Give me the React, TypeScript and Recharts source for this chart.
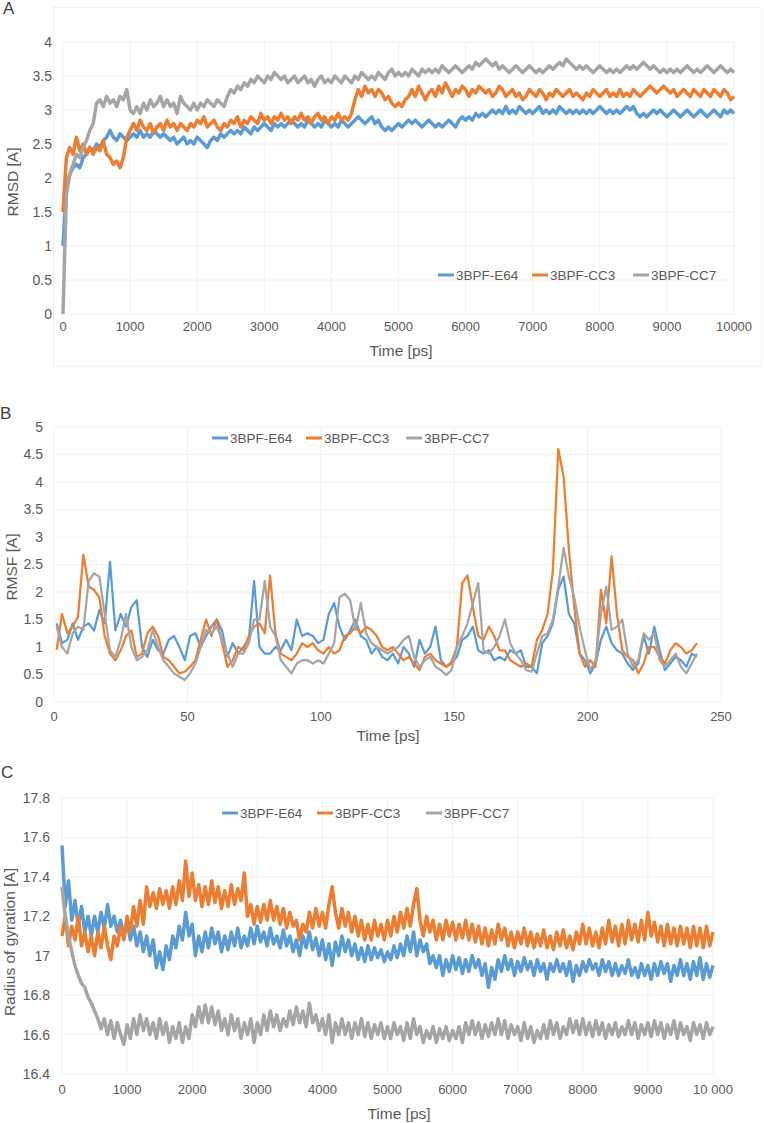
import { LineChart, Line, XAxis, YAxis, CartesianGrid } from 'recharts';

const seriesNames = ['3BPF-E64', '3BPF-CC3', '3BPF-CC7'];
const seriesColors = ['#5B9BD5', '#ED7D31', '#A5A5A5'];

// A: RMSD, sampled every 50 ps
const rmsdTime = Array.from({ length: 201 }, (_, i) => i * 50);
const rmsdE64 = [
  1.0, 1.85, 2.05, 2.15, 2.2, 2.15, 2.3, 2.35, 2.45, 2.4,
  2.5, 2.45, 2.55, 2.6, 2.7, 2.6, 2.55, 2.65, 2.6, 2.55,
  2.6, 2.65, 2.6, 2.7, 2.6, 2.65, 2.6, 2.7, 2.65, 2.6,
  2.65, 2.6, 2.55, 2.6, 2.5, 2.55, 2.6, 2.5, 2.55, 2.5,
  2.6, 2.55, 2.5, 2.45, 2.55, 2.6, 2.55, 2.65, 2.6, 2.65,
  2.7, 2.65, 2.7, 2.65, 2.75, 2.7, 2.65, 2.75, 2.7, 2.75,
  2.8, 2.75, 2.7, 2.8, 2.75, 2.8, 2.75, 2.8, 2.85, 2.8,
  2.75, 2.8, 2.75, 2.85, 2.8, 2.75, 2.8, 2.75, 2.85, 2.8,
  2.75, 2.8, 2.75, 2.85, 2.8, 2.75, 2.8, 2.85, 2.9, 2.85,
  2.8, 2.85, 2.9, 2.8, 2.85, 2.75, 2.7, 2.75, 2.7, 2.75,
  2.8, 2.75, 2.8, 2.85, 2.8, 2.85, 2.8, 2.75, 2.8, 2.85,
  2.8, 2.75, 2.8, 2.75, 2.8, 2.85, 2.8, 2.75, 2.85, 2.9,
  2.85, 2.9, 2.85, 2.95, 2.9, 2.95, 2.9, 2.95, 3.0, 2.95,
  3.0, 2.95, 3.05, 2.95, 3.0, 2.95, 3.05, 3.0, 2.95, 3.0,
  2.95, 3.0, 3.05, 2.95, 3.0, 2.95, 3.0, 2.95, 3.05, 3.0,
  2.95, 3.0, 2.95, 3.0, 2.95, 3.0, 2.95, 3.0, 2.95, 3.0,
  3.05, 3.0, 2.95, 3.0, 2.95, 3.0, 2.95, 3.0, 3.05, 3.0,
  3.05, 2.95, 2.9, 2.95, 2.9, 2.95, 3.0, 2.95, 3.0, 2.95,
  2.9, 2.95, 3.0, 2.95, 2.9, 2.95, 3.0, 2.95, 2.9, 2.95,
  3.0, 2.95, 2.9, 2.95, 3.0, 2.95, 2.9, 3.0, 2.95, 3.0,
  2.95,
];
const rmsdCC3 = [
  1.5, 2.3, 2.45, 2.35, 2.6, 2.4, 2.5, 2.35, 2.45, 2.35,
  2.45, 2.4, 2.55, 2.35, 2.3, 2.2, 2.25, 2.15, 2.3, 2.6,
  2.7, 2.8, 2.7, 2.85, 2.75, 2.7, 2.8, 2.65, 2.75, 2.8,
  2.7, 2.85, 2.75, 2.8, 2.7, 2.8, 2.75, 2.7, 2.8, 2.75,
  2.85, 2.8, 2.9, 2.75, 2.8, 2.85, 2.75, 2.7, 2.8, 2.75,
  2.85, 2.8, 2.9, 2.75, 2.85, 2.8, 2.9, 2.85, 2.8, 2.95,
  2.85, 2.9, 2.8, 2.9, 2.85, 2.95, 2.85, 2.9, 2.8, 2.9,
  2.85, 2.95, 2.85, 2.9, 2.8, 2.9, 2.95, 2.85, 2.9, 2.8,
  2.9, 2.85, 2.95, 2.85, 2.9, 2.85, 2.95, 3.15, 3.3, 3.2,
  3.35, 3.25, 3.3, 3.2, 3.3, 3.25, 3.15, 3.2, 3.1, 3.05,
  3.1, 3.05, 3.15, 3.2, 3.3, 3.2, 3.35, 3.25, 3.15, 3.25,
  3.3, 3.2, 3.35, 3.25, 3.4, 3.3, 3.2, 3.3, 3.25, 3.35,
  3.3, 3.2, 3.3, 3.25, 3.35, 3.3, 3.25, 3.3, 3.2, 3.25,
  3.35, 3.3, 3.2, 3.25, 3.3, 3.2, 3.25, 3.15, 3.2, 3.3,
  3.25, 3.2, 3.3, 3.25, 3.15, 3.25, 3.2, 3.3, 3.25, 3.2,
  3.25, 3.3, 3.2, 3.25, 3.2, 3.15, 3.25, 3.2, 3.3, 3.25,
  3.2, 3.25, 3.3, 3.2, 3.25, 3.2, 3.3, 3.2, 3.25, 3.2,
  3.3, 3.25, 3.2, 3.25, 3.3, 3.35, 3.3, 3.25, 3.3, 3.35,
  3.3, 3.25, 3.3, 3.2, 3.25, 3.3, 3.25, 3.2, 3.3, 3.25,
  3.2, 3.3, 3.25, 3.2, 3.3, 3.25, 3.2, 3.3, 3.25, 3.15,
  3.2,
];
const rmsdCC7 = [
  0, 1.75, 2.05, 2.2, 2.35, 2.3, 2.45, 2.55, 2.7, 2.8,
  3.1, 3.15, 3.05, 3.2, 3.1, 3.15, 3.05, 3.2, 3.15, 3.3,
  3.0, 2.95, 3.05, 2.95, 3.1, 3.0, 3.15, 3.05, 3.1, 3.2,
  3.05, 3.15, 3.05, 3.1, 2.95, 3.2, 3.1, 3.05, 3.0, 3.1,
  3.0, 3.1, 3.05, 3.15, 3.1, 3.05, 3.15, 3.1, 3.05, 3.2,
  3.3, 3.25, 3.35, 3.3, 3.4, 3.35, 3.45, 3.4, 3.5, 3.45,
  3.4, 3.5, 3.45, 3.55, 3.5, 3.45, 3.5, 3.4, 3.45, 3.5,
  3.4, 3.45, 3.5, 3.4, 3.45, 3.35, 3.45, 3.5, 3.4, 3.45,
  3.4, 3.5, 3.45, 3.4, 3.5, 3.45, 3.4, 3.5, 3.45, 3.55,
  3.5, 3.45, 3.5, 3.45, 3.55, 3.5, 3.45, 3.55, 3.6, 3.5,
  3.55, 3.5, 3.55, 3.5, 3.6, 3.55, 3.5, 3.6, 3.55, 3.6,
  3.55, 3.6, 3.55, 3.65, 3.6, 3.55, 3.6, 3.65, 3.6, 3.55,
  3.6, 3.65, 3.6, 3.7, 3.65, 3.7, 3.75, 3.7, 3.65, 3.7,
  3.6, 3.65, 3.6, 3.55, 3.6, 3.65, 3.6, 3.55, 3.6, 3.65,
  3.6, 3.55, 3.6, 3.55, 3.6, 3.65, 3.6, 3.65, 3.7, 3.65,
  3.75, 3.7, 3.65, 3.6, 3.65, 3.6, 3.65, 3.6, 3.55, 3.6,
  3.65, 3.6, 3.55, 3.6, 3.55, 3.6, 3.55, 3.6, 3.65, 3.6,
  3.65, 3.6, 3.65, 3.7, 3.65, 3.6, 3.65, 3.6, 3.55, 3.6,
  3.55, 3.6, 3.55, 3.6, 3.55, 3.6, 3.65, 3.6, 3.55, 3.6,
  3.55, 3.6, 3.65, 3.6, 3.55, 3.6, 3.65, 3.6, 3.55, 3.6,
  3.55,
];
const rmsdXTicks = [0, 1000, 2000, 3000, 4000, 5000, 6000, 7000, 8000, 9000, 10000];
const rmsdYTicks = [0, 0.5, 1, 1.5, 2, 2.5, 3, 3.5, 4];

// B: RMSF
const rmsfTime = Array.from({ length: 121 }, (_, i) => 1 + i * 2);
const rmsfE64 = [
  1.43, 1.07, 1.13, 1.43, 1.13, 1.37, 1.43, 1.3, 1.67, 1.43,
  2.55, 1.3, 1.6, 1.37, 1.73, 1.85, 1.0, 0.82, 1.13, 0.94,
  0.88, 1.13, 1.2, 1.0, 0.76, 1.2, 1.25, 1.0, 1.2, 1.37,
  1.5, 1.3, 0.82, 1.07, 0.88, 1.0, 1.13, 2.2, 1.0, 0.88,
  0.88, 1.0, 0.94, 1.13, 0.94, 1.5, 1.2, 1.25, 1.2, 1.07,
  1.13, 1.6, 1.8, 1.37, 1.13, 1.3, 1.5, 1.2, 1.13, 0.88,
  1.0, 0.82, 0.76, 0.88, 0.7, 1.0, 0.88, 0.64, 1.13, 0.88,
  1.0, 1.37, 0.76, 0.64, 0.7, 0.82, 1.13, 1.2, 1.37, 0.94,
  0.88, 0.94, 0.76, 0.82, 0.76, 0.94, 0.88, 0.94, 0.64, 0.64,
  0.52, 1.07, 1.2, 1.43, 2.04, 2.28, 1.6, 1.43, 0.88, 0.76,
  0.52, 0.7, 1.13, 1.37, 1.07, 0.94, 0.88, 0.7, 0.58, 0.7,
  1.2, 0.88, 1.37, 0.94, 0.58, 0.7, 0.82, 0.76, 0.64, 0.88,
  0.82,
];
const rmsfCC3 = [
  0.95, 1.6, 1.25, 1.37, 1.55, 2.68, 2.1, 2.04, 1.9, 1.2,
  0.88, 0.76, 0.94, 1.2, 1.3, 0.82, 0.88, 1.25, 1.37, 1.2,
  0.82, 0.76, 0.64, 0.52, 0.55, 0.64, 0.76, 1.13, 1.5, 1.2,
  1.5, 1.07, 0.64, 0.76, 1.0, 0.94, 1.2, 1.37, 1.43, 1.25,
  2.3, 1.25, 0.88, 0.82, 0.76, 0.88, 1.07, 1.0, 1.07, 0.94,
  0.88, 1.0, 0.88, 0.94, 1.2, 1.25, 1.37, 1.25, 1.37, 1.31,
  1.2, 1.0, 0.94, 1.0, 0.88, 0.76, 0.82, 0.7, 0.58, 0.82,
  0.88, 0.76, 0.7, 0.64, 0.73, 1.0, 2.16, 2.3, 1.73, 1.2,
  1.13, 1.37, 1.2, 0.94, 0.94, 0.76, 0.7, 0.64, 0.7, 0.64,
  1.13, 1.31, 1.6, 2.4, 4.6, 4.1, 2.76, 1.73, 0.88, 0.64,
  0.76, 0.64, 2.04, 1.43, 2.65, 1.6, 0.94, 0.82, 0.76, 0.52,
  0.7, 1.0, 1.0, 0.82, 0.7, 0.94, 1.07, 1.0, 0.88, 0.94,
  1.07,
];
const rmsfCC7 = [
  1.37, 1.0, 0.88, 1.25, 1.37, 1.31, 2.2, 2.34, 2.28, 1.6,
  0.94, 0.82, 1.13, 1.6, 1.0, 0.76, 0.82, 0.94, 1.31, 1.0,
  0.76, 0.64, 0.52, 0.46, 0.4, 0.52, 0.7, 1.0, 1.31, 1.25,
  1.37, 1.13, 0.88, 0.64, 0.88, 0.88, 1.07, 1.5, 1.5, 2.2,
  1.37, 1.2, 0.76, 0.64, 0.52, 0.7, 0.76, 0.76, 0.7, 0.76,
  0.7, 0.88, 1.07, 1.9, 1.97, 1.85, 1.31, 1.8, 1.25, 1.07,
  1.0, 0.94, 0.88, 0.94, 1.0, 1.13, 1.2, 0.82, 0.64, 0.76,
  0.82, 0.64, 0.58, 0.49, 0.58, 1.0, 1.2, 1.43, 1.8, 2.16,
  0.94, 0.88, 1.0, 1.2, 1.5, 1.07, 0.88, 0.76, 0.58, 0.55,
  0.88, 1.2, 1.25, 1.5, 2.1, 2.8, 2.28, 1.9, 1.37, 0.94,
  0.58, 0.76, 1.6, 2.1, 1.31, 1.37, 1.5, 0.88, 0.64, 0.76,
  1.25, 1.13, 1.25, 0.76, 0.64, 0.76, 0.88, 0.64, 0.52, 0.7,
  0.88,
];
const rmsfXTicks = [0, 50, 100, 150, 200, 250];
const rmsfYTicks = [0, 0.5, 1, 1.5, 2, 2.5, 3, 3.5, 4, 4.5, 5];

// C: radius of gyration, sampled every 50 ps
const rgTime = Array.from({ length: 201 }, (_, i) => i * 50);
const rgE64 = [
  17.56, 17.25, 17.38, 17.18, 17.28, 17.15, 17.25, 17.12, 17.2, 17.1,
  17.2, 17.12, 17.22, 17.14, 17.26, 17.15, 17.2, 17.12, 17.18, 17.1,
  17.17, 17.08, 17.15, 17.05, 17.12, 17.02, 17.1, 17.0, 17.08, 16.94,
  17.02, 16.93, 17.05, 16.98, 17.1, 17.04, 17.15, 17.08, 17.22, 17.1,
  17.16, 17.0, 17.1, 17.02, 17.12, 17.04, 17.14, 17.06, 17.12, 17.02,
  17.1, 17.03, 17.12, 17.05, 17.14, 17.04, 17.1, 17.05, 17.14, 17.06,
  17.15, 17.07, 17.12, 17.05, 17.14, 17.06, 17.1, 17.04, 17.13, 17.05,
  17.1, 17.02, 17.08, 17.0, 17.1, 17.04, 17.12, 17.03, 17.09, 17.0,
  17.08, 16.98, 17.06, 16.95, 17.07, 17.0, 17.1, 17.02, 17.08, 17.0,
  17.06, 16.98, 17.04, 16.97, 17.05, 16.98, 17.04, 16.99, 17.03, 16.97,
  17.02, 16.98, 17.05, 16.99, 17.06, 17.0, 17.1, 17.02, 17.12, 17.0,
  17.08, 17.02, 17.06, 16.96, 17.0, 16.94, 17.0, 16.9, 16.98, 16.92,
  17.0, 16.93, 16.99, 16.91, 16.98, 16.92, 17.0, 16.94, 16.98, 16.9,
  16.96, 16.84, 16.94, 16.88, 16.98, 16.92, 17.0, 16.93, 16.98, 16.9,
  16.97, 16.92, 16.99, 16.93, 16.97, 16.9, 16.98, 16.92, 16.96, 16.88,
  16.96, 16.92, 16.98, 16.92, 16.96, 16.9, 16.97, 16.87, 16.95, 16.9,
  16.97, 16.92, 16.98, 16.93, 16.96, 16.9, 16.98, 16.92, 16.97, 16.9,
  16.96, 16.9, 16.95, 16.91, 16.98, 16.9, 16.94, 16.89, 16.96, 16.9,
  16.95, 16.88, 16.96, 16.9, 16.97, 16.91, 16.96, 16.87, 16.95, 16.9,
  16.98, 16.9, 16.96, 16.88, 16.97, 16.9, 16.99, 16.88, 16.96, 16.89,
  16.95,
];
const rgCC3 = [
  17.1, 17.2, 17.05, 17.15, 17.08, 17.2, 17.05, 17.12, 17.02, 17.1,
  17.0, 17.12, 17.04, 17.15, 17.05, 16.98, 17.1, 17.05, 17.15, 17.08,
  17.2, 17.12, 17.25, 17.15, 17.28, 17.16, 17.35, 17.25, 17.32, 17.24,
  17.34, 17.26, 17.33, 17.24, 17.35, 17.26, 17.38, 17.28, 17.48, 17.3,
  17.42, 17.28, 17.36, 17.25, 17.35, 17.26, 17.38, 17.27, 17.35, 17.24,
  17.33, 17.25, 17.36, 17.26, 17.34, 17.28, 17.42, 17.2, 17.26, 17.16,
  17.25, 17.17, 17.26, 17.18, 17.28, 17.18, 17.25, 17.16, 17.24, 17.14,
  17.22, 17.15, 17.18, 17.08, 17.16, 17.12, 17.22, 17.14, 17.24, 17.15,
  17.22, 17.14, 17.26, 17.35, 17.22, 17.14, 17.24, 17.15, 17.22, 17.12,
  17.2, 17.1, 17.18, 17.08, 17.16, 17.08, 17.18, 17.1, 17.16, 17.08,
  17.18, 17.1, 17.2, 17.12, 17.22, 17.14, 17.24, 17.15, 17.26, 17.34,
  17.18, 17.1, 17.2, 17.12, 17.18, 17.08, 17.16, 17.08, 17.18, 17.1,
  17.17, 17.08, 17.16, 17.09, 17.18, 17.08, 17.16, 17.07, 17.15, 17.06,
  17.14, 17.05, 17.13, 17.06, 17.16, 17.08, 17.14, 17.05, 17.12, 17.04,
  17.12, 17.06, 17.14, 17.05, 17.12, 17.04, 17.11, 17.05, 17.13, 17.04,
  17.1, 17.03, 17.12, 17.05, 17.13, 17.04, 17.1, 17.03, 17.12, 17.06,
  17.16, 17.06, 17.14, 17.05, 17.12, 17.04, 17.14, 17.06, 17.18, 17.07,
  17.15, 17.05, 17.16, 17.06, 17.18, 17.08, 17.16, 17.07, 17.18, 17.08,
  17.22, 17.1, 17.17, 17.07, 17.15, 17.05, 17.16, 17.06, 17.14, 17.05,
  17.15, 17.06, 17.14, 17.04, 17.15, 17.05, 17.14, 17.04, 17.15, 17.05,
  17.12,
];
const rgCC7 = [
  17.35, 17.2, 17.1, 17.02, 16.95, 16.9, 16.86, 16.84, 16.79, 16.76,
  16.72, 16.68, 16.63, 16.68, 16.6, 16.67, 16.58, 16.66, 16.6, 16.55,
  16.65, 16.58, 16.68, 16.6, 16.7, 16.62, 16.68, 16.6, 16.66, 16.58,
  16.68, 16.6, 16.66, 16.56, 16.64, 16.58, 16.66, 16.56, 16.64, 16.58,
  16.7, 16.64, 16.74, 16.66, 16.75, 16.66, 16.74, 16.65, 16.72, 16.62,
  16.68, 16.6, 16.7, 16.62, 16.68, 16.58, 16.66, 16.6, 16.68, 16.56,
  16.66, 16.6, 16.7, 16.62, 16.72, 16.64, 16.7, 16.62, 16.68, 16.64,
  16.72, 16.65, 16.74, 16.66, 16.72, 16.64, 16.76, 16.66, 16.7, 16.62,
  16.68, 16.6, 16.7, 16.56, 16.66, 16.6, 16.68, 16.6, 16.66, 16.58,
  16.66, 16.6, 16.68, 16.59, 16.66, 16.58, 16.65, 16.6, 16.66, 16.58,
  16.64, 16.58, 16.66, 16.6, 16.64, 16.57, 16.66, 16.58, 16.68, 16.6,
  16.64, 16.56, 16.62, 16.58, 16.64, 16.56, 16.63, 16.58, 16.64, 16.57,
  16.62, 16.58, 16.64, 16.56, 16.66, 16.6, 16.67, 16.6, 16.66, 16.58,
  16.65, 16.59, 16.66, 16.6, 16.68, 16.6, 16.67, 16.58, 16.65, 16.6,
  16.64, 16.57, 16.66, 16.58, 16.64, 16.56, 16.62, 16.58, 16.65, 16.58,
  16.67, 16.6, 16.66, 16.58, 16.64, 16.6, 16.68, 16.61, 16.67, 16.6,
  16.68, 16.6, 16.66, 16.59, 16.67, 16.6, 16.66, 16.58, 16.65, 16.6,
  16.66, 16.59, 16.64, 16.6, 16.67, 16.6, 16.66, 16.58, 16.65, 16.6,
  16.66, 16.59, 16.67, 16.6, 16.66, 16.58, 16.65, 16.6, 16.67, 16.58,
  16.66, 16.6, 16.64, 16.57, 16.66, 16.6, 16.65, 16.58, 16.66, 16.6,
  16.64,
];
const rgXTicks = [0, 1000, 2000, 3000, 4000, 5000, 6000, 7000, 8000, 9000, 10000];
const rgYTicks = [16.4, 16.6, 16.8, 17, 17.2, 17.4, 17.6, 17.8];

const FONT = "'Liberation Sans', Arial, sans-serif";
const TEXT = '#595959';

function toRows(time: number[], a: number[], b: number[], c: number[]) {
  return time.map((t, i) => ({ t, s0: a[i], s1: b[i], s2: c[i] }));
}

interface PanelProps {
  top: number;
  height: number;
  data: { t: number; s0: number; s1: number; s2: number }[];
  margin: { top: number; right: number; bottom: number; left: number };
  yWidth: number;
  xDomain: [number, number];
  xTicks: number[];
  yDomain: [number, number];
  yTicks: number[];
  xTickMargin: number;
  yTickMargin: number;
  strokeWidth: number;
  xFormat?: (v: number) => string;
}

function Panel(p: PanelProps) {
  return (
    <div style={{ position: 'absolute', left: 0, top: p.top }}>
      <LineChart width={764} height={p.height} data={p.data} margin={p.margin}>
        <CartesianGrid stroke="#f0f0f0" strokeWidth={1} />
        <XAxis
          type="number"
          dataKey="t"
          domain={p.xDomain}
          ticks={p.xTicks}
          axisLine={false}
          tickLine={false}
          tickSize={0}
          tickMargin={p.xTickMargin}
          interval={0}
          tickFormatter={p.xFormat}
          tick={{ fill: TEXT, fontSize: 13, fontFamily: FONT }}
        />
        <YAxis
          type="number"
          domain={p.yDomain}
          ticks={p.yTicks}
          width={p.yWidth}
          axisLine={false}
          tickLine={false}
          tickSize={0}
          tickMargin={p.yTickMargin}
          interval={0}
          tick={{ fill: TEXT, fontSize: 14, fontFamily: FONT }}
        />
        {seriesNames.map((name, i) => (
          <Line
            key={name}
            type="linear"
            dataKey={`s${i}`}
            name={name}
            stroke={seriesColors[i]}
            strokeWidth={p.strokeWidth}
            strokeLinejoin="round"
            dot={false}
            isAnimationActive={false}
          />
        ))}
      </LineChart>
    </div>
  );
}

function LegendRow({ xs, y }: { xs: number[]; y: number }) {
  return (
    <>
      {seriesNames.map((name, i) => (
        <div
          key={name}
          style={{
            position: 'absolute',
            left: xs[i],
            top: y,
            transform: 'translateY(-50%)',
            display: 'flex',
            alignItems: 'center',
            fontSize: 13.5,
            color: TEXT,
            whiteSpace: 'nowrap',
          }}
        >
          <span style={{ display: 'inline-block', width: 16, height: 3, background: seriesColors[i], marginRight: 2 }} />
          {name}
        </div>
      ))}
    </>
  );
}

function Title({ text, x, y, rotate }: { text: string; x: number; y: number; rotate?: boolean }) {
  return (
    <div
      style={{
        position: 'absolute',
        left: x,
        top: y,
        transform: `translate(-50%, -50%)${rotate ? ' rotate(-90deg)' : ''}`,
        fontSize: 15.5,
        color: TEXT,
        whiteSpace: 'nowrap',
      }}
    >
      {text}
    </div>
  );
}

function Letter({ text, x, y }: { text: string; x: number; y: number }) {
  return (
    <div style={{ position: 'absolute', left: x, top: y, fontSize: 17, color: '#404040' }}>{text}</div>
  );
}

export default function App() {
  const rmsdRows = toRows(rmsdTime, rmsdE64, rmsdCC3, rmsdCC7);
  const rmsfRows = toRows(rmsfTime, rmsfE64, rmsfCC3, rmsfCC7);
  const rgRows = toRows(rgTime, rgE64, rgCC3, rgCC7);

  return (
    <div
      style={{
        position: 'absolute',
        left: 0,
        top: 0,
        width: 764,
        height: 1123,
        background: '#fff',
        fontFamily: FONT,
        overflow: 'hidden',
      }}
    >
      <div style={{ position: 'absolute', left: 53, top: 7, width: 709, height: 360, border: '1px solid #f0f0f0', boxSizing: 'border-box' }} />

      <Panel
        top={0}
        height={360}
        data={rmsdRows}
        margin={{ top: 42, right: 30, bottom: 16, left: 0 }}
        yWidth={63}
        xDomain={[0, 10000]}
        xTicks={rmsdXTicks}
        yDomain={[0, 4]}
        yTicks={rmsdYTicks}
        xTickMargin={8}
        yTickMargin={11}
        strokeWidth={3.5}
      />
      <Panel
        top={400}
        height={340}
        data={rmsfRows}
        margin={{ top: 27, right: 43, bottom: 8, left: 0 }}
        yWidth={54}
        xDomain={[0, 250]}
        xTicks={rmsfXTicks}
        yDomain={[0, 5]}
        yTicks={rmsfYTicks}
        xTickMargin={10}
        yTickMargin={11}
        strokeWidth={2.25}
      />
      <Panel
        top={770}
        height={340}
        data={rgRows}
        margin={{ top: 28, right: 51, bottom: 6, left: 0 }}
        yWidth={62}
        xDomain={[0, 10000]}
        xTicks={rgXTicks}
        yDomain={[16.4, 17.8]}
        yTicks={rgYTicks}
        xTickMargin={11}
        yTickMargin={12}
        strokeWidth={3.5}
        xFormat={(v) => (v === 10000 ? '10 000' : String(v))}
      />

      <LegendRow xs={[438, 532, 633]} y={275} />
      <LegendRow xs={[212, 306, 406]} y={438} />
      <LegendRow xs={[222, 317, 426]} y={813} />

      <Title text="Time [ps]" x={401} y={351} />
      <Title text="Time [ps]" x={388} y={736} />
      <Title text="Time [ps]" x={399} y={1114} />
      <Title text="RMSD [A]" x={13} y={182} rotate />
      <Title text="RMSF [A]" x={12} y={567} rotate />
      <Title text="Radius of gyration [A]" x={10} y={942} rotate />

      <Letter text="A" x={3} y={-1} />
      <Letter text="B" x={0} y={404} />
      <Letter text="C" x={1} y={763} />
    </div>
  );
}
